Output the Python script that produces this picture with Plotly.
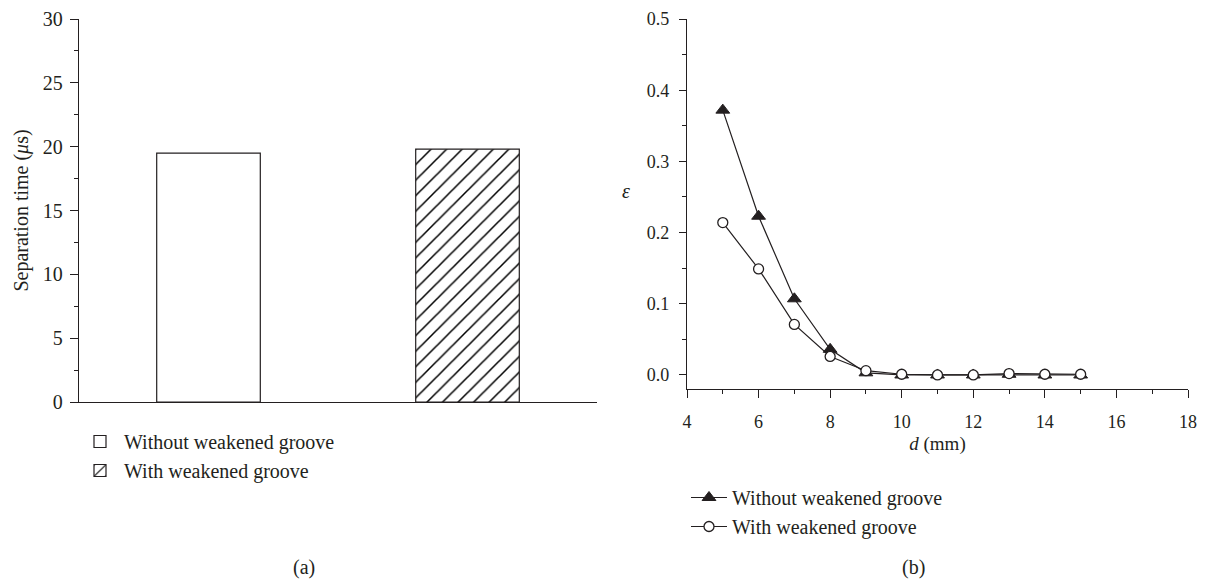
import plotly.graph_objects as go

# ---- data ----
bar_categories = ["Without weakened groove", "With weakened groove"]
bar_positions = [0, 1]
separation_time = [19.5, 19.8]

d_values = [5, 6, 7, 8, 9, 10, 11, 12, 13, 14, 15]
eps_without = [0.372, 0.223, 0.107, 0.036, 0.003, 0.0, 0.0, 0.0, 0.001, 0.0, 0.0]
eps_with = [0.214, 0.149, 0.071, 0.026, 0.006, 0.001, 0.0, 0.0, 0.002, 0.001, 0.001]

FONT = "Liberation Serif, Times New Roman, serif"
INK = "#231f20"
W, H = 1206, 579

fig = go.Figure()

# (a) bars
fig.add_trace(go.Bar(
    x=[bar_positions[0]], y=[separation_time[0]], name=bar_categories[0],
    width=0.4, marker=dict(color="white", line=dict(color=INK, width=1.2)),
    xaxis="x", yaxis="y", legend="legend",
))
fig.add_trace(go.Bar(
    x=[bar_positions[1]], y=[separation_time[1]], name=bar_categories[1],
    width=0.4,
    marker=dict(color="white", line=dict(color=INK, width=1.2),
                pattern=dict(shape="/", fgcolor="black", fgopacity=1, bgcolor="white",
                             size=11, solidity=0.14)),
    xaxis="x", yaxis="y", legend="legend",
))

# (b) lines
fig.add_trace(go.Scatter(
    x=d_values, y=eps_without, name="Without weakened groove", mode="lines+markers",
    line=dict(color=INK, width=1.2),
    marker=dict(symbol="triangle-up", size=12, color=INK, line=dict(color=INK, width=1)),
    xaxis="x2", yaxis="y2", legend="legend2",
))
fig.add_trace(go.Scatter(
    x=d_values, y=eps_with, name="With weakened groove", mode="lines+markers",
    line=dict(color=INK, width=1.2),
    marker=dict(symbol="circle", size=10, color="white", line=dict(color=INK, width=1.3)),
    xaxis="x2", yaxis="y2", legend="legend2",
))

axis_common = dict(showline=True, linecolor=INK, linewidth=1.3, showgrid=False, zeroline=False,
                   ticks="outside", tickcolor=INK, tickwidth=1.2, ticklen=8, automargin=False,
                   tickfont=dict(family=FONT, size=20, color=INK))

fig.update_layout(
    width=W, height=H,
    margin=dict(l=0, r=0, t=0, b=0, autoexpand=False),
    paper_bgcolor="white", plot_bgcolor="white",
    font=dict(family=FONT, color=INK, size=20),
    barmode="overlay",
    xaxis=dict(domain=[79 / W, 597 / W], range=[-0.5, 1.5], showline=True, linecolor=INK,
               linewidth=1.3, showgrid=False, zeroline=False, showticklabels=False, ticks="",
               automargin=False),
    yaxis=dict(domain=[1 - 402 / H, 1 - 19 / H], range=[0, 30], dtick=5, tick0=0,
               ticklabelstandoff=3,
               minor=dict(dtick=2.5, ticks="outside", ticklen=4, tickcolor=INK, tickwidth=1.1),
               title=dict(text="Separation time (<i>μ</i>s)", font=dict(family=FONT, size=20, color=INK),
                          standoff=8),
               **axis_common),
    xaxis2=dict(domain=[687 / W, 1188 / W], range=[4, 18], dtick=2, tick0=4, anchor="y2",
                ticklabelstandoff=8,
                minor=dict(dtick=1, ticks="outside", ticklen=4, tickcolor=INK, tickwidth=1.1),
                title=dict(text="<i>d</i> (mm)", font=dict(family=FONT, size=19, color=INK), standoff=5),
                **{**axis_common, "tickfont": dict(family=FONT, size=18, color=INK)}),
    yaxis2=dict(domain=[1 - 389 / H, 1 - 19 / H], range=[-0.0197, 0.5], dtick=0.1, tick0=0,
                tickformat=".1f", anchor="x2", ticklabelstandoff=6,
                minor=dict(dtick=0.05, ticks="outside", ticklen=4, tickcolor=INK, tickwidth=1.1),
                **{**axis_common, "ticklen": 7, "tickfont": dict(family=FONT, size=18, color=INK)}),
    legend=dict(x=76 / W, y=1 - 422 / H, xanchor="left", yanchor="top", bgcolor="rgba(0,0,0,0)",
                font=dict(family=FONT, size=20, color=INK), itemwidth=38, tracegroupgap=0,
                traceorder="normal"),
    legend2=dict(x=686 / W, y=1 - 478 / H, xanchor="left", yanchor="top", bgcolor="rgba(0,0,0,0)",
                 font=dict(family=FONT, size=20, color=INK), itemwidth=36, tracegroupgap=0,
                 traceorder="normal"),
    showlegend=True,
    annotations=[
        dict(text="(a)", x=304 / W, y=1 - 567 / H, xref="paper", yref="paper", showarrow=False,
             xanchor="center", yanchor="middle", font=dict(family=FONT, size=20, color=INK)),
        dict(text="(b)", x=913 / W, y=1 - 567 / H, xref="paper", yref="paper", showarrow=False,
             xanchor="center", yanchor="middle", font=dict(family=FONT, size=20, color=INK)),
        dict(text="<i>ε</i>", x=626 / W, y=1 - 191 / H, xref="paper", yref="paper", showarrow=False,
             xanchor="center", yanchor="middle", font=dict(family=FONT, size=20, color=INK)),
    ],
)

fig.write_html("out.html", config={"displayModeBar": False},
               post_script="document.body.style.margin='0';document.body.style.overflow='hidden';")
